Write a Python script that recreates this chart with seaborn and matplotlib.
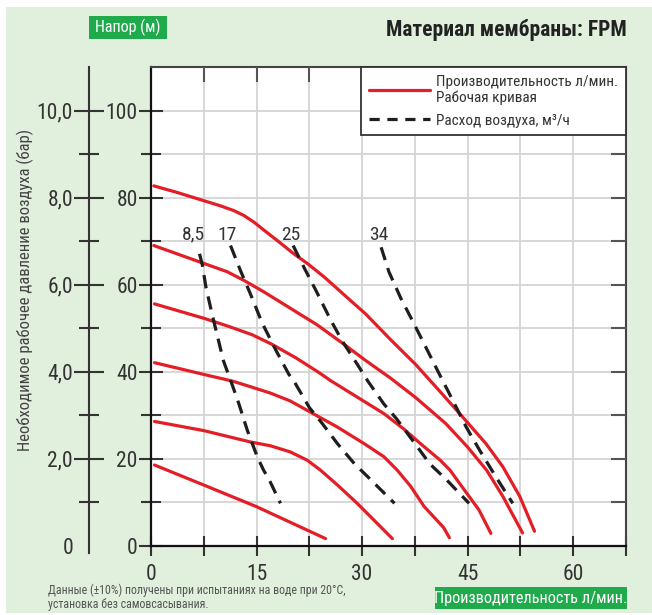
import matplotlib
matplotlib.use("Agg")
import matplotlib.pyplot as plt
import matplotlib.patches as mpatches
from matplotlib.lines import Line2D
import pandas as pd
import seaborn as sns

# pump curves: flow (l/min) vs head (m), one per air pressure
flow_a = [0.4, 3.7, 7.5, 9.9, 11.8, 13.2, 14.6, 16.0, 17.9, 20.3, 22.2, 24.6, 28.4, 30.5,
          33.8, 37.6, 41.0, 44.3, 47.6, 50.0, 52.4, 54.5]
head_a = [82.7, 81.2, 79.3, 78.1, 77.0, 75.9, 74.4, 72.6, 70.2, 67.1, 64.9, 61.8, 56.3, 53.3,
          47.8, 41.7, 35.6, 29.6, 23.5, 18.2, 11.4, 3.4]
flow_b = [0.4, 7.5, 10.8, 13.2, 16.0, 19.8, 23.6, 27.7, 30.5, 34.0, 37.6, 41.9, 45.0, 47.7, 50.0, 52.8]
head_b = [69.0, 64.9, 63.0, 61.0, 58.4, 54.6, 50.8, 46.0, 42.6, 38.6, 34.1, 28.1, 22.7, 17.4, 11.4, 3.0]
flow_c = [0.5, 7.5, 11.1, 14.4, 17.2, 20.6, 23.9, 25.5, 29.3, 33.1, 35.9, 38.3, 41.1, 42.5, 44.2, 46.6, 48.3]
head_c = [55.6, 52.3, 50.4, 48.5, 46.3, 43.2, 39.8, 38.0, 34.2, 30.4, 26.9, 23.5, 19.7, 17.4, 13.6, 8.3, 2.9]
flow_d = [0.5, 7.5, 11.5, 14.1, 17.0, 19.8, 22.7, 26.5, 30.3, 33.1, 35.0, 36.9, 38.8, 41.6, 42.4]
head_d = [42.1, 39.4, 37.9, 36.6, 35.1, 33.3, 30.7, 27.3, 23.5, 20.5, 17.4, 13.7, 9.1, 4.2, 1.9]
flow_e = [0.5, 7.5, 14.1, 17.0, 19.8, 22.2, 24.1, 26.5, 29.3, 34.3]
head_e = [28.6, 26.5, 23.9, 23.0, 21.6, 19.7, 17.4, 14.0, 9.8, 1.7]
flow_f = [0.5, 7.5, 14.9, 24.8]
head_f = [18.6, 14.0, 9.1, 1.7]

# air consumption lines (m3/h)
air_labels = ["8,5", "17", "25", "34"]
air_flow_85 = [6.9, 7.3, 7.8, 8.7, 10.3, 11.5, 12.5, 13.7, 15.1, 16.0, 16.8, 18.4]
air_head_85 = [67.1, 64.5, 59.5, 53.1, 42.5, 37.2, 32.6, 26.5, 20.5, 17.4, 15.2, 9.8]
air_flow_17 = [11.3, 12.7, 14.1, 15.8, 17.7, 19.6, 20.3, 22.5, 24.4, 26.5, 28.9, 30.8, 34.6]
air_head_17 = [69.0, 63.3, 58.0, 51.2, 45.1, 39.4, 37.9, 31.8, 28.0, 23.5, 18.9, 15.9, 9.8]
air_flow_25 = [20.2, 21.7, 23.4, 25.5, 27.2, 29.6, 30.8, 33.1, 34.9, 37.7, 39.6, 42.0, 45.2]
air_head_25 = [69.0, 64.1, 58.8, 52.0, 47.0, 41.0, 37.9, 32.6, 29.2, 23.1, 18.9, 15.2, 9.8]
air_flow_34 = [32.7, 33.8, 35.5, 37.2, 39.1, 41.0, 42.9, 44.8, 46.7, 49.0, 51.4]
air_head_34 = [68.6, 63.0, 56.9, 51.6, 45.5, 39.4, 33.4, 27.3, 22.0, 15.9, 9.8]
air_label_x = [6.1, 10.8, 19.8, 32.4]
air_label_y = [71.5, 71.5, 71.5, 71.5]

x_ticks = [0, 15, 30, 45, 60]
head_ticks = [0, 20, 40, 60, 80, 100]
bar_ticks = [0, 2, 4, 6, 8, 10]
bar_tick_labels = ["0", "2,0", "4,0", "6,0", "8,0", "10,0"]

RED = "#E41E26"
DASH = "#1E1E1E"
GREEN = "#1FAA4B"
PANEL = "#E1EFDD"
GRID = "#D4D4D4"
W, H = 652, 615

sns.set_theme(style="white")
plt.rcParams["font.family"] = ["Roboto Condensed", "Roboto", "DejaVu Sans"]

fig = plt.figure(figsize=(W / 100, H / 100), dpi=100, facecolor="white")
fig.patches.append(mpatches.Rectangle((6 / W, 1 - 613 / H), 1, 606 / H,
                                      transform=fig.transFigure,
                                      facecolor=PANEL, edgecolor="none", zorder=-10))

left, right = 151 / W, 626 / W
bottom, top = 1 - 546 / H, 1 - 67 / H
ax = fig.add_axes([left, bottom, right - left, top - bottom])
ax.set_facecolor("white")

pump_curves = [(flow_a, head_a), (flow_b, head_b), (flow_c, head_c),
               (flow_d, head_d), (flow_e, head_e), (flow_f, head_f)]
for flow, head in pump_curves:
    df = pd.DataFrame({"flow": flow, "head": head})
    sns.lineplot(data=df, x="flow", y="head", ax=ax, color=RED,
                 linewidth=2.3, sort=False, zorder=3)

air_curves = [(air_flow_85, air_head_85), (air_flow_17, air_head_17),
              (air_flow_25, air_head_25), (air_flow_34, air_head_34)]
for flow, head in air_curves:
    df = pd.DataFrame({"flow": flow, "head": head})
    sns.lineplot(data=df, x="flow", y="head", ax=ax, color=DASH,
                 linewidth=2.3, sort=False, linestyle=(0, (4.2, 2.6)), zorder=4)

for label, lx, ly in zip(air_labels, air_label_x, air_label_y):
    ax.text(lx, ly, label, ha="center", va="center", fontsize=14, color="#333333")

ax.set_xlim(0, 67.5)
ax.set_ylim(0, 110)
ax.set_xlabel("")
ax.set_ylabel("")
ax.set_xticks(x_ticks)
ax.set_xticks([7.5, 22.5, 37.5, 52.5, 67.5], minor=True)
ax.set_yticks(head_ticks)
ax.set_yticks([10, 30, 50, 70, 90], minor=True)
ax.set_xticklabels([str(t) for t in x_ticks])
ax.set_yticklabels([str(t) for t in head_ticks])
ax.grid(which="both", color=GRID, linewidth=1.3, zorder=0)
ax.set_axisbelow(True)
ax.tick_params(axis="x", which="both", direction="inout", length=14, width=1.5,
               color="#333333", labelsize=15.5, labelcolor="#333333", pad=6,
               bottom=True)
ax.tick_params(axis="y", which="major", direction="inout", length=17, width=1.5,
               color="#333333", labelsize=15.5, labelcolor="#333333", pad=1, left=True)
ax.tick_params(axis="y", which="minor", direction="inout", length=14, width=1.5,
               color="#333333", left=True)
for side in ["left", "bottom"]:
    ax.spines[side].set_color("#111111")
    ax.spines[side].set_linewidth(1.6)
for side in ["top", "right"]:
    ax.spines[side].set_color("#444444")
    ax.spines[side].set_linewidth(1.5)

# inward ticks on top and right edges
ax_r = ax.twinx()
ax_r.set_ylim(0, 110)
ax_r.set_yticks([10, 20, 30, 40, 50, 60, 70, 80, 90, 100])
ax_r.tick_params(axis="y", direction="in", length=11, width=1.5, color="#555555",
                 labelright=False)
ax_t = ax_r.twiny()
ax_t.set_xlim(0, 67.5)
ax_t.set_xticks([7.5, 15, 22.5, 30, 37.5, 45, 52.5, 60])
ax_t.tick_params(axis="x", direction="in", length=11, width=1.5, color="#555555",
                 labeltop=False)
for a in (ax_r, ax_t):
    for s in a.spines.values():
        s.set_visible(False)

handles = [
    Line2D([0], [0], color=RED, linewidth=2.3),
    Line2D([0], [0], color=DASH, linewidth=2.3, linestyle=(0, (3.2, 2.4))),
]
labels = ["Производительность л/мин.\nРабочая кривая", "Расход воздуха, м³/ч"]
leg = ax_t.legend(handles, labels, loc="upper right", bbox_to_anchor=(1, 1),
                  borderaxespad=0, fancybox=False, framealpha=1, edgecolor="#333333",
                  fontsize=11, handlelength=4.0, handletextpad=0.4,
                  labelspacing=0.55, borderpad=0.5, labelcolor="#333333")
leg.get_frame().set_linewidth(1.3)

# pressure scale (bar) on the far left
ax_bar = fig.add_axes([89 / W, 1 - 553 / H, 0.0001, (553 - 67) / H])
ax_bar.set_ylim(-7 / 43.545, 11)
ax_bar.set_facecolor("none")
ax_bar.set_xticks([])
ax_bar.set_yticks(bar_ticks)
ax_bar.set_yticklabels(bar_tick_labels)
ax_bar.set_yticks([1, 3, 5, 7, 9], minor=True)
ax_bar.tick_params(axis="y", which="major", direction="inout", length=21, width=1.5,
                   color="#333333", labelsize=15.5, labelcolor="#333333", pad=1, left=True)
ax_bar.tick_params(axis="y", which="minor", direction="inout", length=14, width=1.5,
                   color="#333333", left=True)
ax_bar.yaxis.get_major_ticks()[0].tick1line.set_visible(False)
for side, s in ax_bar.spines.items():
    s.set_visible(side == "left")
ax_bar.spines["left"].set_color("#333333")
ax_bar.spines["left"].set_linewidth(1.5)

# texts and label boxes
fig.text(627 / W, 1 - 30 / H, "Материал мембраны: FPM", ha="right", va="center",
         fontsize=15.5, fontweight="bold", color="#222222")
fig.patches.append(mpatches.Rectangle((89 / W, 1 - 39 / H), 78 / W, 23 / H,
                                      transform=fig.transFigure,
                                      facecolor=GREEN, edgecolor="none"))
fig.text(128 / W, 1 - 27.5 / H, "Напор (м)", ha="center", va="center",
         fontsize=11.5, color="white")
fig.patches.append(mpatches.Rectangle((435 / W, 1 - 609 / H), 192 / W, 22 / H,
                                      transform=fig.transFigure,
                                      facecolor=GREEN, edgecolor="none"))
fig.text(531 / W, 1 - 598 / H, "Производительность л/мин.", ha="center", va="center",
         fontsize=11.7, color="white")
fig.text(25 / W, 1 - 290 / H, "Необходимое рабочее давление воздуха (бар)",
         ha="center", va="center", rotation=90, fontsize=12, color="#444444")
fig.text(48 / W, 1 - 597 / H,
         "Данные (±10%) получены при испытаниях на воде при 20°C,\nустановка без самовсасывания.",
         ha="left", va="center", fontsize=8.6, color="#555555", linespacing=1.1)

fig.savefig("out.png", dpi=100, facecolor=fig.get_facecolor())
